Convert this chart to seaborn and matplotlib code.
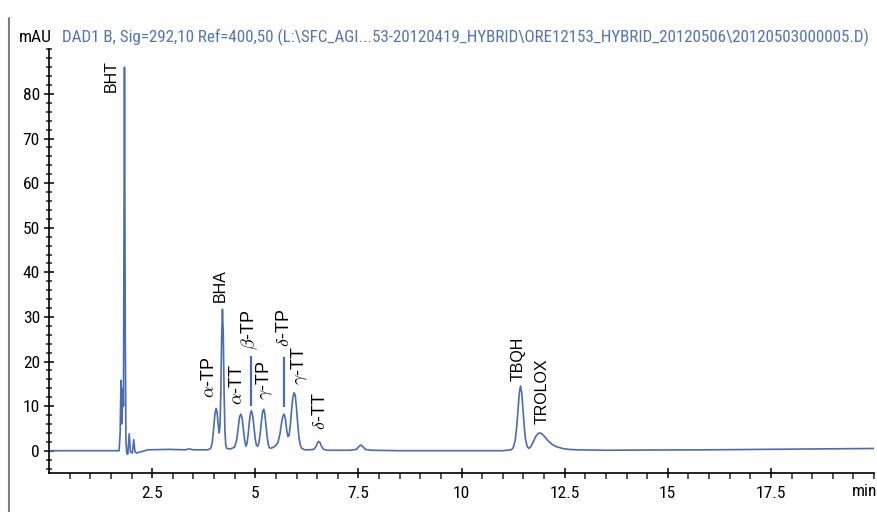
import matplotlib
matplotlib.use("Agg")
import matplotlib.pyplot as plt
from matplotlib import font_manager as fm
from matplotlib.lines import Line2D
import numpy as np
import pandas as pd
import seaborn as sns

# ---------------- data ----------------
time_min = [
    0.00, 0.80, 1.60, 1.70, 1.725, 1.745, 1.76, 1.775, 1.79, 1.805, 1.83, 1.85, 1.865,
    1.885, 1.91, 1.945, 1.975, 2.02, 2.055, 2.085, 2.13, 2.25, 2.40, 2.90, 3.30, 3.40,
    3.50, 3.80,
    3.85, 3.92, 3.96, 3.99, 4.02, 4.05, 4.075, 4.10, 4.125, 4.145, 4.165, 4.185, 4.205,
    4.225, 4.245, 4.265, 4.285, 4.31,
    4.40, 4.50, 4.55, 4.59, 4.62, 4.65, 4.68, 4.71, 4.745, 4.775,
    4.80, 4.83, 4.86, 4.89, 4.91, 4.94, 4.97, 5.00, 5.03, 5.06,
    5.09, 5.12, 5.15, 5.18, 5.205, 5.23, 5.26, 5.29, 5.32, 5.35, 5.40, 5.48,
    5.55, 5.60, 5.64, 5.67, 5.70, 5.73, 5.76, 5.79, 5.82, 5.85, 5.88, 5.91, 5.94, 5.97,
    6.00, 6.03, 6.06, 6.09, 6.13, 6.20, 6.30,
    6.42, 6.47, 6.51, 6.54, 6.57, 6.61, 6.66, 6.75, 6.90, 7.30,
    7.45, 7.51, 7.56, 7.61, 7.67, 7.80, 8.50, 9.50, 10.50, 11.00, 11.20,
    11.25, 11.30, 11.34, 11.37, 11.40, 11.43, 11.46, 11.49, 11.52, 11.55, 11.59, 11.63,
    11.68, 11.74, 11.80, 11.86, 11.90, 11.96, 12.03, 12.10, 12.20, 12.30, 12.45, 12.60,
    12.80, 13.50, 14.50, 16.00, 18.00, 20.00,
]
signal_mau = [
    0.0, 0.0, 0.0, 0.0, 4.0, 15.8, 6.0, 8.0, 14.0, 10.0, 86.0, 25.0, 2.0,
    -0.6, -0.8, 3.8, -0.3, -0.5, 2.5, -0.3, -0.5, -0.2, 0.2, 0.3, 0.2, 0.4,
    0.2, 0.2,
    0.2, 0.5, 2.0, 4.8, 8.0, 9.5, 8.6, 6.0, 4.0, 5.5, 13.0, 25.0, 31.7,
    26.0, 13.0, 4.5, 1.2, 0.5,
    0.4, 0.8, 2.4, 5.4, 7.6, 8.2, 7.4, 5.0, 2.2, 1.0,
    1.6, 3.8, 6.8, 8.7, 8.9, 7.8, 5.2, 2.6, 1.2, 1.0,
    1.8, 3.9, 6.6, 8.8, 9.3, 8.4, 5.8, 3.0, 1.2, 0.6, 0.6, 1.0,
    1.8, 3.8, 6.4, 7.8, 8.2, 7.2, 4.8, 3.2, 3.4, 5.6, 9.0, 11.8, 13.0, 12.4,
    9.6, 6.0, 3.0, 1.3, 0.5, 0.2, 0.2,
    0.3, 0.9, 1.8, 2.1, 1.8, 0.9, 0.3, 0.1, 0.1, 0.1,
    0.3, 0.9, 1.3, 0.9, 0.3, 0.1, 0.0, 0.0, 0.0, 0.0, 0.2,
    0.6, 2.2, 5.5, 9.0, 12.8, 14.5, 13.0, 9.4, 5.6, 2.7, 1.0, 0.5,
    0.9, 2.0, 3.2, 3.9, 4.0, 3.7, 3.0, 2.2, 1.4, 0.9, 0.5, 0.3,
    0.2, 0.1, 0.15, 0.2, 0.35, 0.5,
]

peak_names = ["BHT", "BHA", r"$\alpha$-TP", r"$\alpha$-TT", r"$\beta$-TP", r"$\gamma$-TP",
              r"$\delta$-TP", r"$\gamma$-TT", r"$\delta$-TT", "TBQH", "TROLOX"]
label_time = [1.50, 4.15, 3.90, 4.58, 4.87, 5.24, 5.72, 6.08, 6.57, 11.37, 11.95]
label_base = [80.4, 33.3, 11.8, 10.2, 22.5, 11.3, 23.2, 14.7, 4.6, 15.6, 6.0]

marker_time = [4.89, 5.70]
marker_low = [10.0, 9.8]
marker_high = [21.3, 21.0]

xtick_pos = [2.5, 5, 7.5, 10, 12.5, 15, 17.5]
xtick_lab = ["2.5", "5", "7.5", "10", "12.5", "15", "17.5"]
ytick_pos = [0, 10, 20, 30, 40, 50, 60, 70, 80]

title_text = (r"DAD1 B, Sig=292,10 Ref=400,50 (L:\SFC_AGI...53-20120419_HYBRID"
              r"\ORE12153_HYBRID_20120506\20120503000005.D)")

# ---------------- styling ----------------
sns.set_style("ticks")


def pick_font(cands):
    for c in cands:
        try:
            fm.findfont(fm.FontProperties(family=c), fallback_to_default=False)
            return c
        except Exception:
            continue
    return "DejaVu Sans"


cond = pick_font(["Roboto Condensed", "Archivo Narrow", "PT Sans Narrow",
                  "Liberation Sans Narrow", "Barlow Semi Condensed", "Barlow Condensed",
                  "Encode Sans Condensed", "Asap Condensed"])
reg = pick_font(["Liberation Sans", "Arimo", "Roboto"])

plt.rcParams["font.family"] = [cond, "DejaVu Sans"]
plt.rcParams["mathtext.fontset"] = "cm"

BLUE = "#4a6cb3"
TXTBLUE = "#5273b8"

fig = plt.figure(figsize=(8.78, 5.12), dpi=100)
W, H = 878.0, 512.0
ax_left, ax_right, ax_top, ax_bot = 49.0, 874.0, 49.4, 473.0
ax = fig.add_axes([ax_left / W, 1 - ax_bot / H, (ax_right - ax_left) / W, (ax_bot - ax_top) / H])

df = pd.DataFrame({"time": time_min, "signal": signal_mau})
sns.lineplot(data=df, x="time", y="signal", ax=ax, estimator=None, sort=False,
             color=BLUE, linewidth=1.2)

ax.set_xlim(0, 20)
ax.set_ylim(-5, 90)
ax.set_xlabel("")
ax.set_ylabel("")
for s in ["top", "right"]:
    ax.spines[s].set_visible(False)
for s in ["left", "bottom"]:
    ax.spines[s].set_color("black")
    ax.spines[s].set_linewidth(1.2)

ax.set_xticks(xtick_pos)
ax.set_xticklabels(xtick_lab)
ax.set_xticks(np.arange(0.5, 20.01, 0.5), minor=True)
ax.set_yticks(ytick_pos)
ax.set_yticklabels([str(v) for v in ytick_pos])
ax.set_yticks(np.arange(-4, 90.01, 2), minor=True)

ax.tick_params(axis="x", which="major", direction="inout", length=7, width=1.1,
               labelsize=12.5, pad=6, colors="black")
ax.tick_params(axis="x", which="minor", direction="out", length=4, width=1.1)
ax.tick_params(axis="y", which="major", direction="inout", length=7, width=1.1,
               labelsize=12.5, pad=3, colors="black")
ax.tick_params(axis="y", which="minor", direction="inout", length=5, width=1.1)

# "min" unit label at end of x axis
fig.text(877 / W, 1 - 491 / H, "min", ha="right", va="center", fontsize=12.5, color="black")

# header
fig.text(19 / W, 1 - 37 / H, "mAU", ha="left", va="center", fontsize=12.5, color="black")
fig.text(62 / W, 1 - 37 / H, title_text, ha="left", va="center", fontsize=12.25, color=TXTBLUE)

# peak labels
for name, t, yb in zip(peak_names, label_time, label_base):
    fs = 13 if name.startswith("$") else 11.5
    ax.text(t, yb, name, rotation=90, ha="center", va="bottom", fontsize=fs,
            family=[reg, "DejaVu Sans"], color="black")

# marker bars
for t, lo, hi in zip(marker_time, marker_low, marker_high):
    ax.plot([t, t], [lo, hi], color=BLUE, linewidth=1.6, solid_capstyle="butt")

# left frame line
fig.add_artist(Line2D([9.5 / W, 9.5 / W], [0, 1 - 18 / H], transform=fig.transFigure,
                      color="#7f7f7f", linewidth=1.5))

fig.savefig("out.png", dpi=100)
